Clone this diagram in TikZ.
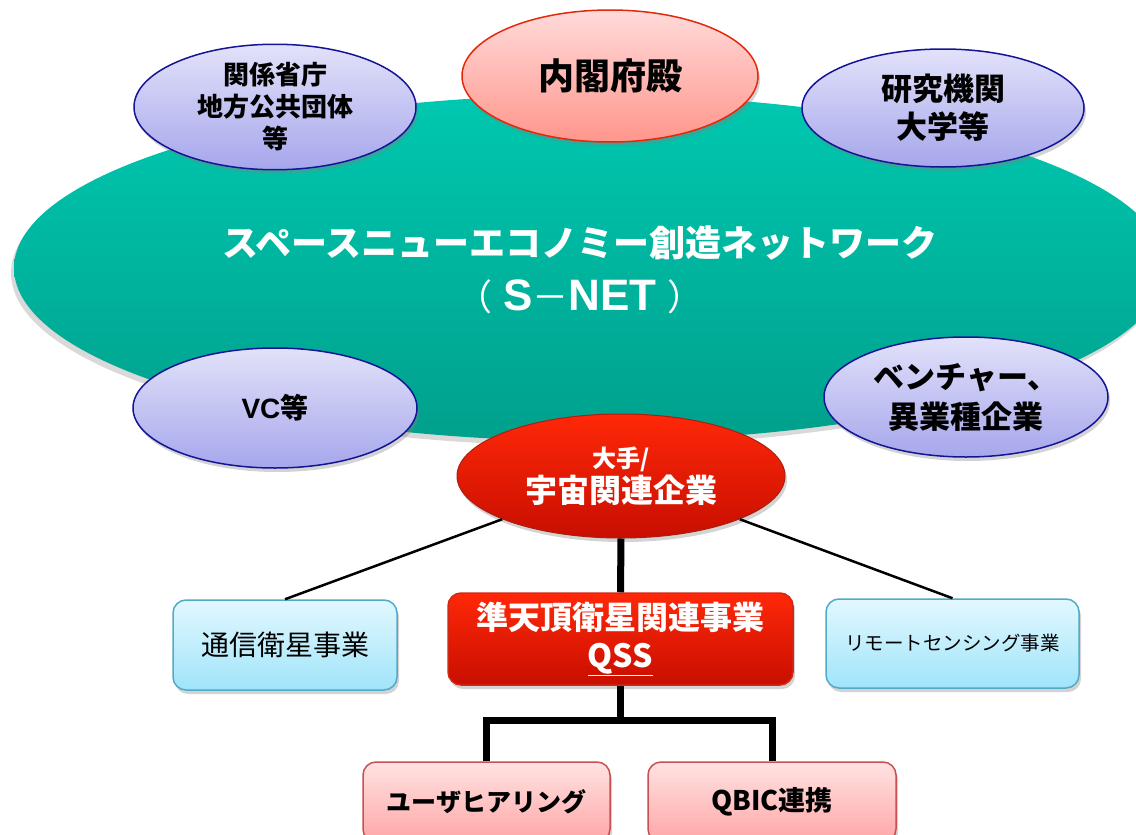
\documentclass[tikz,border=0pt]{standalone}
\usepackage{fontspec}
\setmainfont{Noto Sans CJK JP}
\newfontfamily\latinsans{Liberation Sans}
\usetikzlibrary{shapes.geometric,shadows}
\definecolor{tealtop}{RGB}{0,200,176}
\definecolor{tealbot}{RGB}{0,160,140}
\definecolor{lavtop}{RGB}{226,226,250}
\definecolor{lavbot}{RGB}{166,166,236}
\definecolor{lavline}{RGB}{20,20,150}
\definecolor{pinktop}{RGB}{255,218,218}
\definecolor{pinkbot}{RGB}{255,150,140}
\definecolor{pinkline}{RGB}{230,40,10}
\definecolor{redtop}{RGB}{255,40,8}
\definecolor{redbot}{RGB}{200,14,0}
\definecolor{redline}{RGB}{210,40,20}
\definecolor{bluetop}{RGB}{226,248,255}
\definecolor{bluebot}{RGB}{160,228,250}
\definecolor{blueline}{RGB}{80,170,200}
\definecolor{rosetop}{RGB}{255,226,226}
\definecolor{rosebot}{RGB}{255,166,166}
\definecolor{roseline}{RGB}{200,80,80}
\tikzset{
  shad/.style={drop shadow={shadow xshift=2pt,shadow yshift=-4pt,opacity=.35}},
  lav/.style={ellipse,draw=lavline,line width=1.5pt,top color=lavtop,bottom color=lavbot,
    inner sep=0pt,align=center,font=\bfseries,shad},
  cabinet/.style={ellipse,draw=pinkline,line width=1.5pt,top color=pinktop,bottom color=pinkbot,
    inner sep=0pt,align=center,shad},
  bigred/.style={ellipse,draw=redline!80!black,line width=1pt,top color=redtop,bottom color=redbot,
    inner sep=0pt,align=center,text=white,shad},
  bluebox/.style={rectangle,rounded corners=13pt,draw=blueline,line width=1.5pt,top color=bluetop,
    bottom color=bluebot,inner sep=0pt,align=center,shad},
  redbox/.style={rectangle,rounded corners=13pt,draw=redline,line width=1.5pt,top color=redtop,
    bottom color=redbot,inner sep=0pt,align=center,text=white,shad},
  rosebox/.style={rectangle,rounded corners=13pt,draw=roseline,line width=1.5pt,top color=rosetop,
    bottom color=rosebot,inner sep=0pt,align=center,shad},
  thinlink/.style={line width=2.5pt,black},
  thicklink/.style={line width=7pt,black},
}
\begin{document}
\begin{tikzpicture}[x=1pt,y=-1pt]
\useasboundingbox (0,0) rectangle (1136,835);
\clip (0,0) rectangle (1136,835);
% big network ellipse
\node[ellipse,minimum width=1152pt,minimum height=346pt,inner sep=0pt,
  top color=tealtop,bottom color=tealbot,
  drop shadow={shadow xshift=-3pt,shadow yshift=-5pt,opacity=.3}] (snet) at (590,268) {};
\node[text=white,font=\bfseries\fontsize{36}{54}\selectfont,align=center] (snetlabel) at (580,270)
  {スペースニューエコノミー創造ネットワーク\\{\mdseries（}\hspace{11pt}{\latinsans\fontsize{44}{54}\selectfont S}{\mdseries －}{\latinsans\fontsize{44}{54}\selectfont NET}\hspace{11pt}{\mdseries ）}};
% surrounding ellipses
\node[lav,minimum width=282pt,minimum height=118pt,font=\bfseries\fontsize{26}{32}\selectfont] (gov) at (275,107)
  {関係省庁\\地方公共団体\\等};
\node[lav,minimum width=282pt,minimum height=118pt,font=\bfseries\fontsize{31}{38}\selectfont] (res) at (943,108)
  {研究機関\\大学等};
\node[lav,minimum width=284pt,minimum height=120pt,font=\bfseries\fontsize{28}{34}\selectfont] (vc) at (275,408)
  {{\latinsans VC}等};
\node[lav,minimum width=284pt,minimum height=120pt,font=\bfseries\fontsize{31}{40}\selectfont] (ven) at (966,397)
  {ベンチャー、\\異業種企業};
\node[cabinet,minimum width=296pt,minimum height=132pt,font=\bfseries\fontsize{36}{40}\selectfont] (cab) at (610,76)
  {内閣府殿};
\node[bigred,minimum width=328pt,minimum height=124pt,font=\bfseries] (ote) at (621,476)
  {{\fontsize{24}{28}\selectfont 大手/}\\[2pt]{\fontsize{32}{36}\selectfont 宇宙関連企業}};
% business boxes
\node[bluebox,minimum width=224pt,minimum height=90pt,font=\fontsize{28}{32}\selectfont] (tsu) at (285,645)
  {通信衛星事業};
\node[redbox,minimum width=345pt,minimum height=92pt,font=\bfseries\fontsize{32}{38}\selectfont] (qss) at (620.5,639)
  {準天頂衛星関連事業\\\underline{QSS}};
\node[bluebox,minimum width=253pt,minimum height=89pt,font=\fontsize{19.5}{24}\selectfont] (rem) at (952.5,643.5)
  {リモートセンシング事業};
\node[rosebox,minimum width=247pt,minimum height=80pt,font=\bfseries\fontsize{25}{30}\selectfont] (usr) at (486.5,802)
  {ユーザヒアリング};
\node[rosebox,minimum width=248pt,minimum height=80pt,font=\bfseries\fontsize{27}{30}\selectfont] (qbic) at (772,802)
  {QBIC連携};
% connectors
\draw[thinlink] (ote.200) -- (tsu.north);
\draw[thinlink] (ote.-20) -- (rem.north);
\draw[thicklink] (ote.south) -- (qss.north);
\coordinate (bar) at (620.5,720);
\draw[thicklink] (qss.south) -- (bar);
\draw[thicklink] (usr.north) -- (usr.north |- bar) -- (qbic.north |- bar) -- (qbic.north);
\end{tikzpicture}
\end{document}
